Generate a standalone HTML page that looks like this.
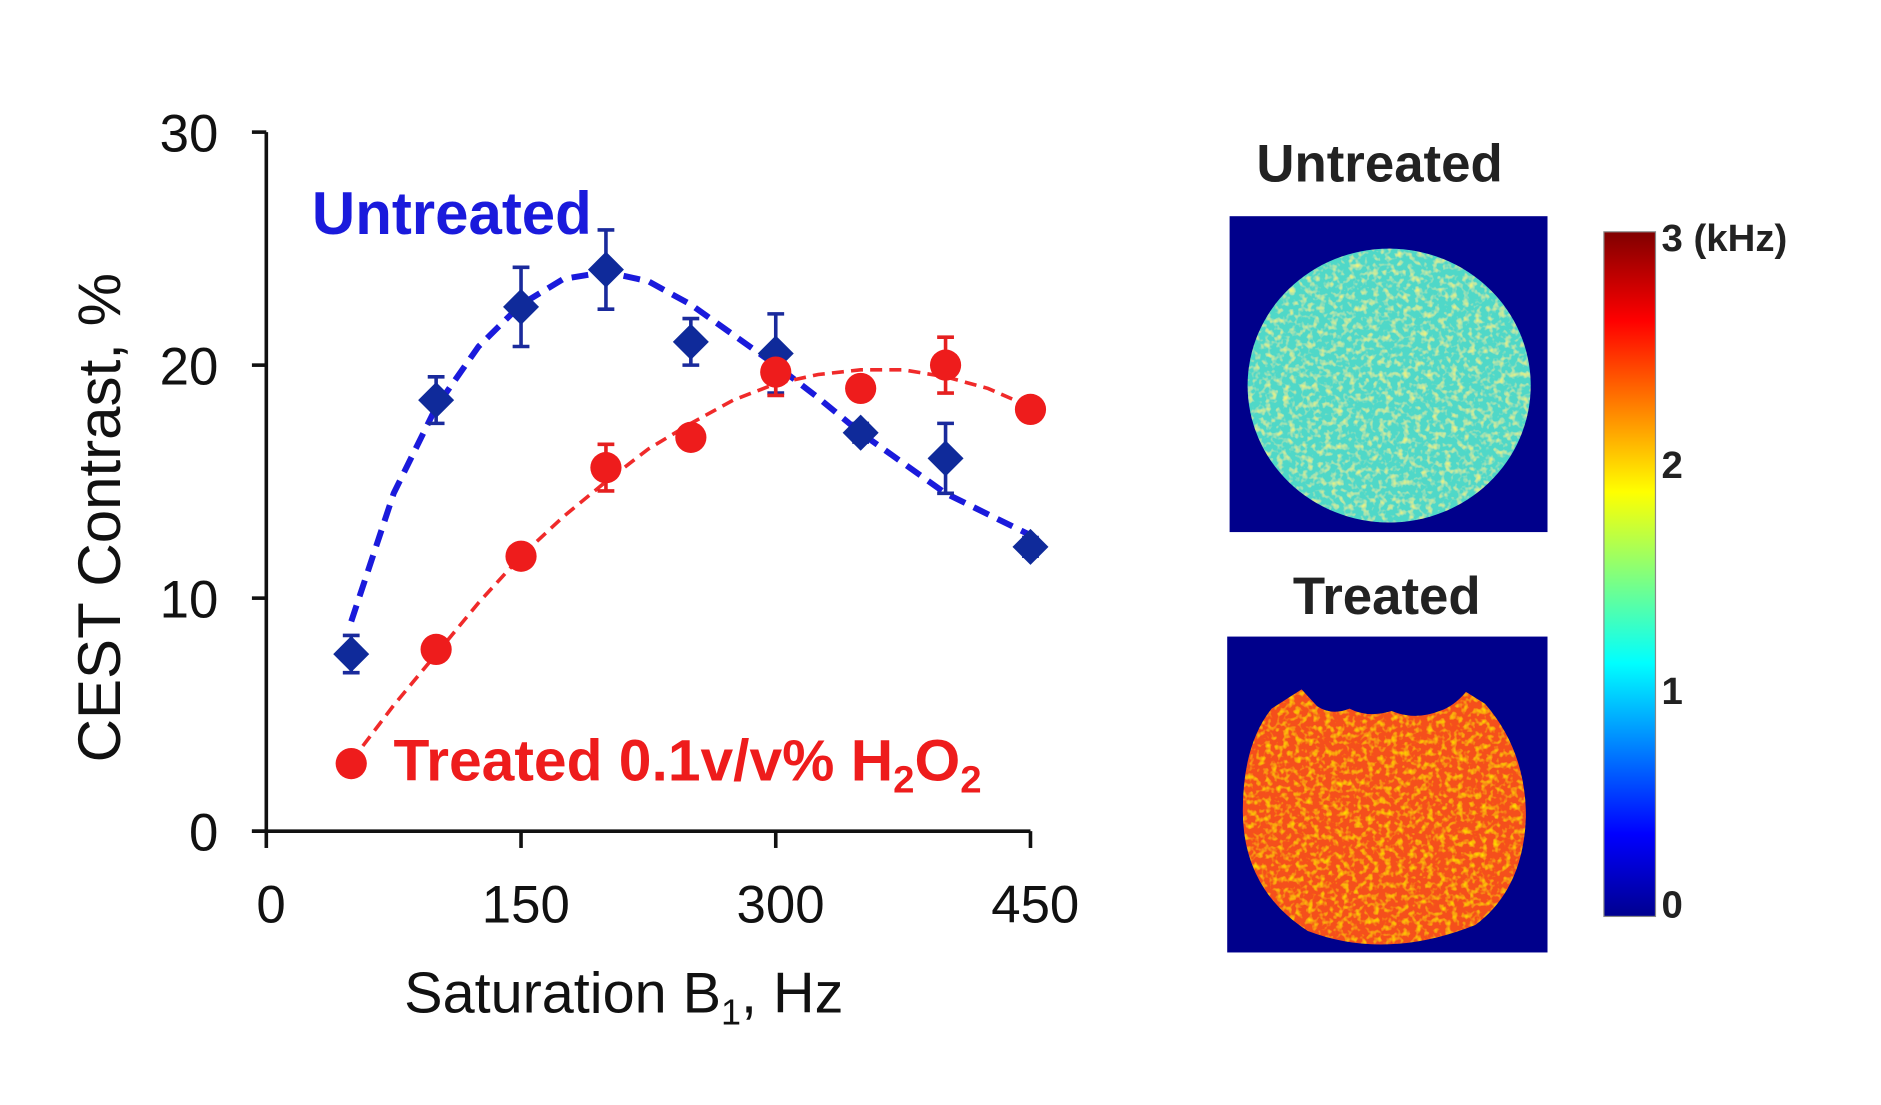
<!DOCTYPE html>
<html><head><meta charset="utf-8"><style>
html,body{margin:0;padding:0;background:#fff;width:1881px;height:1105px;overflow:hidden}
svg{display:block}
text{font-family:"Liberation Sans",sans-serif}
</style></head><body>
<svg id="chart" width="1881" height="1105" viewBox="0 0 1568 920" preserveAspectRatio="none" xmlns="http://www.w3.org/2000/svg">
<defs>
<linearGradient id="jet" x1="0" y1="1" x2="0" y2="0">
<stop offset="0" stop-color="#00008f"/><stop offset="0.12" stop-color="#0000ff"/><stop offset="0.37" stop-color="#00ffff"/><stop offset="0.62" stop-color="#ffff00"/><stop offset="0.87" stop-color="#ff0000"/><stop offset="1" stop-color="#800000"/>
</linearGradient>
<filter id="noiseG" x="0" y="0" width="100%" height="100%"><feTurbulence type="fractalNoise" baseFrequency="0.2" numOctaves="2" seed="3"/><feColorMatrix type="matrix" values="0 0 0 0 0.85  0 0 0 0 0.9  0 0 0 0 0.2  0 0 0 2.5 -1.2"/><feComposite in2="SourceGraphic" operator="in"/><feMerge><feMergeNode in="SourceGraphic"/><feMergeNode/></feMerge></filter>
<filter id="noiseR" x="0" y="0" width="100%" height="100%"><feTurbulence type="fractalNoise" baseFrequency="0.2" numOctaves="2" seed="7"/><feColorMatrix type="matrix" values="0 0 0 0 1  0 0 0 0 0.7  0 0 0 0 0  0 0 0 2.5 -1.2"/><feComposite in2="SourceGraphic" operator="in"/><feMerge><feMergeNode in="SourceGraphic"/><feMergeNode/></feMerge></filter>
</defs>
<g id="plot"></g>

<text x="1150" y="151" text-anchor="middle" font-size="44" font-weight="bold" fill="#222">Untreated</text>
<rect x="1025" y="180" width="265" height="263" fill="#00008b"/>
<ellipse cx="1158" cy="321" rx="118" ry="114" fill="#4fd8c8" filter="url(#noiseG)"/>

<text x="1156" y="511" text-anchor="middle" font-size="44" font-weight="bold" fill="#222">Treated</text>
<rect x="1023" y="530" width="267" height="263" fill="#00008b"/>
<path d="M1060,590 L1085,574 L1098,588 Q1110,596 1125,590 Q1140,598 1160,592 Q1180,600 1200,592 Q1212,588 1222,576 L1238,586 Q1272,625 1272,680 Q1270,740 1230,770 Q1155,800 1090,775 Q1036,740 1036,675 Q1036,620 1060,590 Z" fill="#f5501a" filter="url(#noiseR)"/>

<rect x="1337" y="193" width="43" height="570" fill="url(#jet)" stroke="#888" stroke-width="1"/>
<g font-size="32" font-weight="bold" fill="#222">
<text x="1385" y="209">3 (kHz)</text><text x="1385" y="398">2</text><text x="1385" y="586">1</text><text x="1385" y="764">0</text>
</g>
</svg>
<script>
const xValues=[50,100,150,200,250,300,350,400,450];
const untreated=[7.6,18.5,22.5,24.1,21,20.5,17.1,16,12.2];
const untreatedErr=[0.8,1.0,1.7,1.7,1.0,1.7,0.4,1.5,0.4];
const treated=[2.9,7.8,11.8,15.6,16.9,19.7,19.0,20.0,18.1];
const treatedErr=[0.3,0.3,0.3,1.0,0.4,1.0,0.4,1.2,0.4];
const untreatedFitX=[50,75,100,125,150,175,200,225,250,275,300,325,350,375,400,425,450];
const untreatedFit=[9,14.5,18.2,20.8,22.6,23.7,24.0,23.6,22.6,21.3,20.0,18.6,17.1,15.8,14.5,13.6,12.7];
const treatedFitX=[50,75,100,125,150,175,200,225,250,275,300,325,350,375,400,425,450];
const treatedFit=[3,5.4,7.6,9.8,11.8,13.5,15.0,16.4,17.5,18.5,19.2,19.6,19.8,19.8,19.5,19.0,18.2];
const xTicks=[0,150,300,450];
const yTicks=[0,10,20,30];

const NS="http://www.w3.org/2000/svg";
const g=document.getElementById('plot');
const X=v=>222+(v/450)*(859-222);
const Y=v=>692-(v/30)*(692-110);
function mk(tag,attrs,parent){const e=document.createElementNS(NS,tag);for(const k in attrs)e.setAttribute(k,attrs[k]);(parent||g).appendChild(e);return e;}

let e;
e=mk('line',{x1:222,y1:Y(30),x2:222,y2:Y(0),stroke:'#111','stroke-width':3});


e=mk('line',{x1:210,y1:Y(0),x2:X(450),y2:Y(0),stroke:'#111','stroke-width':3});


yTicks.forEach(t=>{
  mk('line',{x1:210,y1:Y(t),x2:222,y2:Y(t),stroke:'#111','stroke-width':3});
  e=mk('text',{x:182,y:Y(t)+16,'text-anchor':'end','font-size':44,fill:'#111'});
  e.textContent=t;
  
  
});
xTicks.forEach(t=>{
  mk('line',{x1:X(t),y1:Y(0),x2:X(t),y2:Y(0)+14,stroke:'#111','stroke-width':3});
  e=mk('text',{x:X(t)+4,y:768,'text-anchor':'middle','font-size':44,fill:'#111'});
  e.textContent=t;
  
  
});
e=mk('text',{x:520,y:843,'text-anchor':'middle','font-size':48,fill:'#111'});
e.innerHTML='Saturation B<tspan font-size="30" dy="10">1</tspan><tspan dy="-10">, Hz</tspan>';


e=mk('text',{x:0,y:0,'text-anchor':'middle','font-size':50,fill:'#111',transform:'translate(100,431) rotate(-90)'});
e.textContent='CEST Contrast, %';



function fit(xs,ys,color,w,dash,name){
  const d=xs.map((x,i)=>(i?'L':'M')+X(x).toFixed(1)+','+Y(ys[i]).toFixed(1)).join(' ');
  const p=mk('path',{d:d,fill:'none',stroke:color,'stroke-width':w,'stroke-dasharray':dash});
  
  
}
fit(untreatedFitX,untreatedFit,'#1a1adc',5,'14 8','untreated-fit-line');
fit(treatedFitX,treatedFit,'#f02a2a',3,'10 6','treated-fit-line');

function errs(vals,errv,color,name){
  vals.forEach((v,i)=>{
    const x=X(xValues[i]),y1=Y(v+errv[i]),y2=Y(v-errv[i]);
    const gr=mk('g',{stroke:color,'stroke-width':3});
    
    
    mk('line',{x1:x,y1:y1,x2:x,y2:y2},gr);
    mk('line',{x1:x-7,y1:y1,x2:x+7,y2:y1},gr);
    mk('line',{x1:x-7,y1:y2,x2:x+7,y2:y2},gr);
  });
}
errs(untreated,untreatedErr,'#1a2a9c','untreated-error-bar');
errs(treated,treatedErr,'#e52020','treated-error-bar');
untreated.forEach((v,i)=>{
  const x=X(xValues[i]),y=Y(v),s=15;
  const p=mk('polygon',{points:`${x},${y-s} ${x+s},${y} ${x},${y+s} ${x-s},${y}`,fill:'#0f2a9a'});
  
  
});
treated.forEach((v,i)=>{
  const c=mk('circle',{cx:X(xValues[i]),cy:Y(v),r:13,fill:'#ee1c1c'});
  
  
});
e=mk('text',{x:260,y:195,'font-size':50,'font-weight':'bold',fill:'#1a1adc'});
e.textContent='Untreated';


e=mk('text',{x:328,y:650,'font-size':49,'font-weight':'bold',fill:'#ee1c1c'});
e.innerHTML='Treated 0.1v/v% H<tspan font-size="32" dy="10">2</tspan><tspan dy="-10">O</tspan><tspan font-size="32" dy="10">2</tspan>';


</script>
</body></html>
